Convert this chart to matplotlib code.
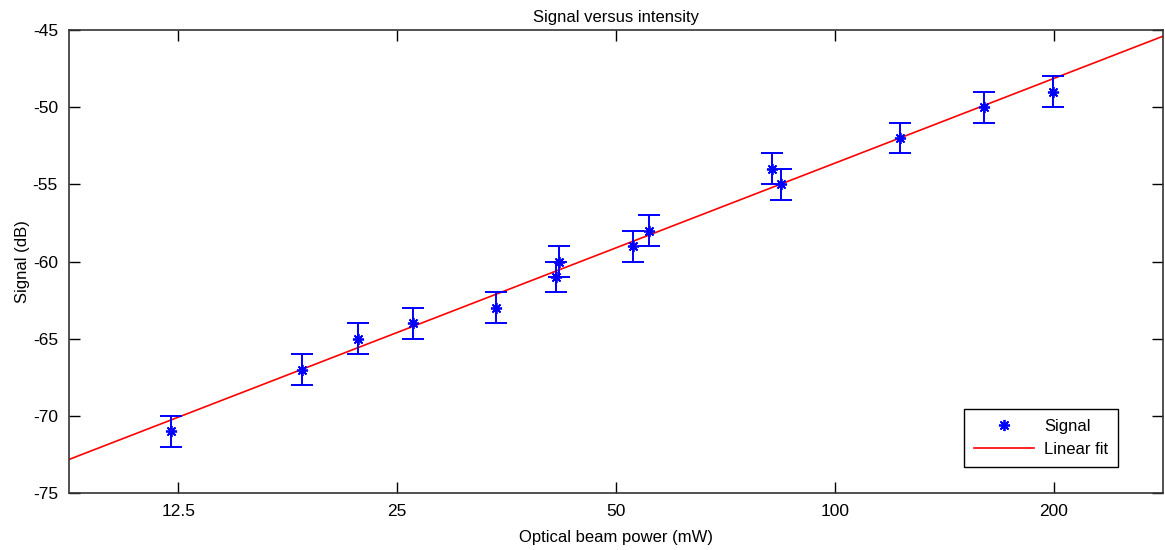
import numpy as np
import matplotlib
matplotlib.use("Agg")
import matplotlib.pyplot as plt
from matplotlib.ticker import NullLocator
from matplotlib.lines import Line2D

# data
power = [12.2, 18.5, 22.1, 26.3, 34.2, 41.4, 41.7, 52.7, 55.5, 81.9, 84.3, 122.8, 160.6, 199.4]
signal = [-71, -67, -65, -64, -63, -61, -60, -59, -58, -54, -55, -52, -50, -49]
err = [1, 1, 1, 1, 1, 1, 1, 1, 1, 1, 1, 1, 1, 1]

# linear fit in log10(power): y = a + b*log10(x)
fit_a = -90.07
fit_b = 18.22

xticks = [12.5, 25, 50, 100, 200]
xtick_labels = ["12.5", "25", "50", "100", "200"]
yticks = [-75, -70, -65, -60, -55, -50, -45]

plt.rcParams['font.family'] = ['Liberation Sans', 'DejaVu Sans']
plt.rcParams['font.size'] = 12
plt.rcParams['axes.unicode_minus'] = False

fig = plt.figure(figsize=(11.65, 5.5), dpi=100)
ax = fig.add_axes([69/1165, 57/550, (1163-69)/1165, (493-30)/550])

xmin, xmax = 12.5/np.sqrt(2), 200*np.sqrt(2)
xf = np.logspace(np.log10(xmin), np.log10(xmax), 200)
yf = fit_a + fit_b*np.log10(xf)

star = (8, 2, 0)
ax.errorbar(power, signal, yerr=err, fmt='none', ecolor='blue',
            elinewidth=1.4, capsize=8, capthick=1.4, zorder=3)
ax.plot(power, signal, linestyle='none', marker=star, color='blue',
        markersize=8, markeredgewidth=1.3, zorder=4)
ax.plot(xf, yf, color='red', linewidth=1.2, zorder=2)

ax.set_xscale('log')
ax.set_xlim(xmin, xmax)
ax.set_ylim(-75, -45)
ax.set_xticks(xticks)
ax.set_xticklabels(xtick_labels)
ax.xaxis.set_minor_locator(NullLocator())
ax.set_yticks(yticks)
ax.tick_params(direction='in', length=8, width=1, top=True, right=True, pad=8, labelsize=12.5)
for s in ax.spines.values():
    s.set_linewidth(1.2)
    s.set_color('#333333')

ax.set_title('Signal versus intensity', fontsize=12, pad=6)
ax.set_xlabel('Optical beam power (mW)', fontsize=12, labelpad=8)
ax.set_ylabel('Signal (dB)', fontsize=12, labelpad=2)

handles = [Line2D([], [], linestyle='none', marker=star, color='blue',
                  markersize=8, markeredgewidth=1.3),
           Line2D([], [], color='red', linewidth=1.2)]
leg = ax.legend(handles, ['Signal', 'Linear fit'], loc='lower right',
                bbox_to_anchor=(0.959, 0.056), borderaxespad=0, fancybox=False,
                edgecolor='black', framealpha=1, fontsize=12, handlelength=3.6,
                borderpad=0.6, labelspacing=0.5, handletextpad=0.6)
leg.get_frame().set_linewidth(1.0)

fig.savefig('out.png', dpi=100)
